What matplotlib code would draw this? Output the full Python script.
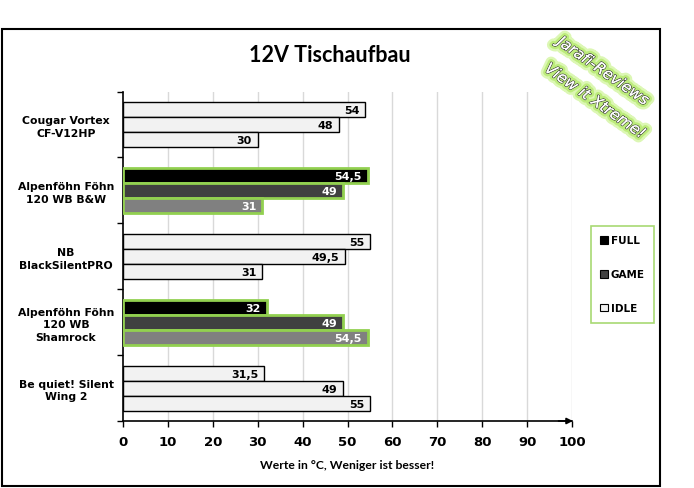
import matplotlib
matplotlib.use("Agg")
import matplotlib.pyplot as plt
import matplotlib.patheffects as pe
from matplotlib.patches import Rectangle, Patch
import numpy as np

categories = ["Cougar Vortex\nCF-V12HP", "Alpenföhn Föhn\n120 WB B&W", "NB\nBlackSilentPRO",
              "Alpenföhn Föhn\n120 WB\nShamrock", "Be quiet! Silent\nWing 2"]
full = [54, 54.5, 55, 32, 31.5]
game = [48, 49, 49.5, 49, 49]
idle = [30, 31, 31, 54.5, 55]
highlight = [False, True, False, True, False]
series_names = ["FULL", "GAME", "IDLE"]
xticks = [0, 10, 20, 30, 40, 50, 60, 70, 80, 90, 100]

W, H = 694, 489
fig = plt.figure(figsize=(W / 100, H / 100), dpi=100)
fig.patch.set_facecolor("white")

def fx(px): return px / W
def fy(py): return 1 - py / H

# outer frame
fig.patches.append(Rectangle((fx(2), fy(487)), fx(660) - fx(2), fy(30) - fy(487),
                             transform=fig.transFigure, fill=False, edgecolor="black", lw=1.5))

ax = fig.add_axes([fx(123), fy(422), fx(572) - fx(123), fy(92.5) - fy(422)])
ax.set_xlim(0, 100)
ax.set_ylim(4.5, -0.5)

colors = ["#000000", "#404040", "#808080"]
plain = "#f2f2f2"
green = "#92d050"
h = 0.228
offs = [-h, 0, h]
vfont = dict(fontsize=8, fontweight="bold", family="DejaVu Sans")

for s, vals in enumerate([full, game, idle]):
    for i, v in enumerate(vals):
        y = i + offs[s]
        if highlight[i]:
            fc, ec, lw, tc = colors[s], green, 2.0, "white"
        else:
            fc, ec, lw, tc = plain, "black", 1.0, "black"
        ax.barh(y, v, height=h, color=fc, edgecolor=ec, linewidth=lw, zorder=3)
        lab = ("%g" % v).replace(".", ",")
        ax.text(v - 1.3, y + 0.01, lab, ha="right", va="center", color=tc, zorder=4, **vfont)

# grid
for t in xticks[1:]:
    ax.axvline(t, color="#d9d9d9", lw=1, zorder=1)

for sp in ["top", "right"]:
    ax.spines[sp].set_visible(False)
ax.spines["left"].set_linewidth(1.2)
ax.spines["bottom"].set_linewidth(1.2)

# arrow at end of x axis
ax.annotate("", xy=(100.2, 0.0), xytext=(97, 0.0), xycoords=("data", "axes fraction"),
            textcoords=("data", "axes fraction"),
            arrowprops=dict(arrowstyle="-|>", color="black", lw=1.2, mutation_scale=9,
                            shrinkA=0, shrinkB=0),
            annotation_clip=False, zorder=5)

ax.set_xticks(xticks)
ax.set_xticklabels([str(t) for t in xticks], fontsize=9.5, fontweight="bold", family="DejaVu Sans")
ax.tick_params(axis="x", direction="out", length=4, width=1, pad=6)

ax.set_yticks(np.arange(len(categories)))
ax.set_yticklabels(categories, fontsize=7.8, fontweight="bold", family="DejaVu Sans",
                   multialignment="center", linespacing=1.3)
ax.set_yticks(np.arange(-0.5, 5.0, 1.0), minor=True)
ax.tick_params(axis="y", which="minor", length=4, width=1, direction="out")
for lbl in ax.get_yticklabels():
    lbl.set_ha("center")
ax.tick_params(axis="y", which="major", length=0, pad=41)

ax.set_xlabel("Werte in °C, Weniger ist besser!", fontsize=8.7, family="Lato", fontweight="bold",
              labelpad=8)

fig.text(fx(330), fy(55), "12V Tischaufbau", ha="center", va="center", fontsize=15.5,
         fontweight="bold", family="Lato")

# legend
handles = [Patch(facecolor=colors[k], edgecolor="black", linewidth=0.8) for k in range(2)]
handles.append(Patch(facecolor=plain, edgecolor="black", linewidth=0.8))
leg = fig.legend(handles, series_names, loc="upper left",
                 bbox_to_anchor=(fx(591), fy(227)), frameon=True, fancybox=False,
                 labelspacing=2.3, handlelength=0.75, handleheight=0.75, handletextpad=0.25,
                 borderpad=0.9, prop=dict(family="DejaVu Sans", weight="bold", size=7.5),
                 borderaxespad=0)
leg.get_frame().set_edgecolor(green)
leg.get_frame().set_linewidth(1.2)

# watermark
glow = [pe.withStroke(linewidth=8, foreground="#dcf7b4"),
        pe.withStroke(linewidth=4.5, foreground="#bdec7c"),
        pe.withStroke(linewidth=1.0, foreground="#333333"),
        pe.Normal()]
fig.text(fx(603), fy(72), "Jarafi-Reviews", ha="center", va="center", rotation=-35,
         fontsize=11, style="italic", family="DejaVu Sans", color="white", path_effects=glow,
         rotation_mode="anchor")
fig.text(fx(595), fy(102), "View it Xtreme!", ha="center", va="center", rotation=-35,
         fontsize=11, style="italic", family="DejaVu Sans", color="white", path_effects=glow,
         rotation_mode="anchor")

fig.savefig("out.png", dpi=100, facecolor="white")
